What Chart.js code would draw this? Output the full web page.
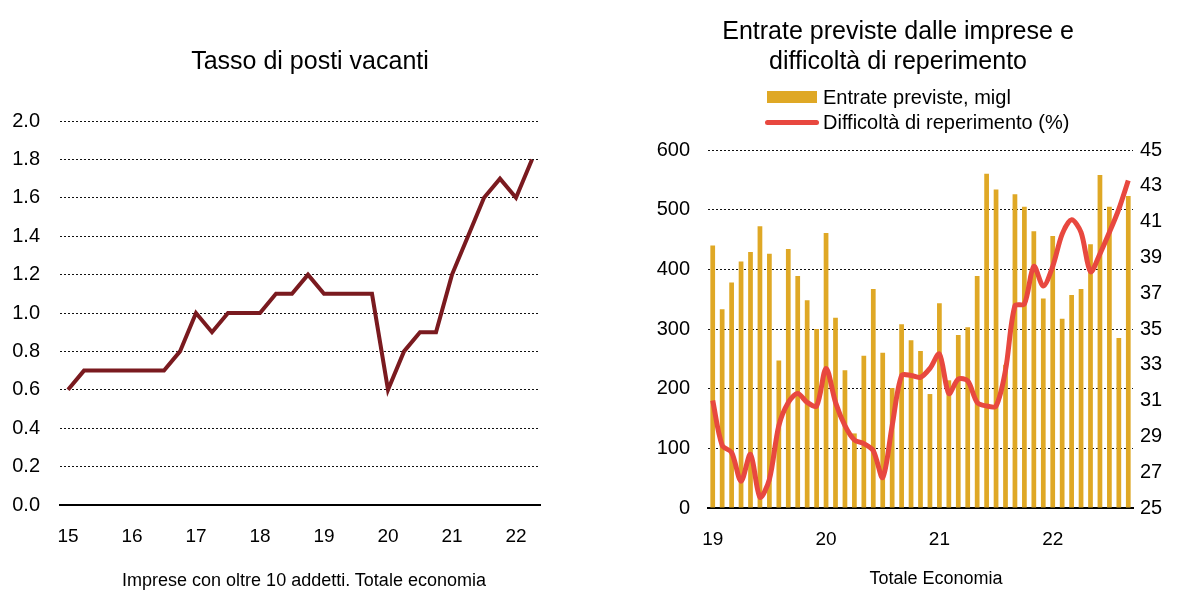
<!DOCTYPE html>
<html>
<head>
<meta charset="utf-8">
<script src="https://cdn.jsdelivr.net/npm/chart.js@4.4.0/dist/chart.umd.min.js"></script>
<style>
  body { margin: 0; width: 1179px; height: 592px; background: #fff; position: relative; overflow: hidden;
         font-family: 'Liberation Sans', Arial, sans-serif; color: #000; }
  .box { position: absolute; }
  .txt { position: absolute; white-space: nowrap; line-height: 1; }
  .center { transform: translate(-50%, -50%); text-align: center; }
  .left { transform: translateY(-50%); }
</style>
</head>
<body>
<div class="box" style="left:0;top:0;width:590px;height:592px"><canvas id="vacancy-chart"></canvas></div>
<div class="box" style="left:590px;top:0;width:589px;height:592px"><canvas id="hiring-chart"></canvas></div>

<!-- titles, legend and notes -->
<div class="txt center" style="left:310px;top:60px;font-size:25px">Tasso di posti vacanti</div>
<div class="txt center" style="left:304px;top:580px;font-size:18px">Imprese con oltre 10 addetti. Totale economia</div>

<div class="txt center" style="left:898px;top:45px;font-size:25px;line-height:30px">Entrate previste dalle imprese e<br>difficoltà di reperimento</div>
<div class="box" style="left:767px;top:91px;width:50px;height:12px;background:#DFA825"></div>
<div class="txt left" style="left:823px;top:97px;font-size:20px">Entrate previste, migl</div>
<div class="box" style="left:765px;top:120px;width:54px;height:5px;border-radius:3px;background:#E8483F"></div>
<div class="txt left" style="left:823px;top:122px;font-size:20px">Difficoltà di reperimento (%)</div>
<div class="txt center" style="left:936px;top:578px;font-size:18px">Totale Economia</div>

<script>
// left panel: job vacancy rate, quarterly
const quarters = [
    '2015T1', '2015T2', '2015T3', '2015T4', '2016T1', '2016T2', '2016T3', '2016T4',
    '2017T1', '2017T2', '2017T3', '2017T4', '2018T1', '2018T2', '2018T3', '2018T4',
    '2019T1', '2019T2', '2019T3', '2019T4', '2020T1', '2020T2', '2020T3', '2020T4',
    '2021T1', '2021T2', '2021T3', '2021T4', '2022T1', '2022T2'
];
const vacancyRate = [
    0.6, 0.7, 0.7, 0.7, 0.7, 0.7, 0.7, 0.8,
    1.0, 0.9, 1.0, 1.0, 1.0, 1.1, 1.1, 1.2,
    1.1, 1.1, 1.1, 1.1, 0.6, 0.8, 0.9, 0.9,
    1.2, 1.4, 1.6, 1.7, 1.6, 1.8
];

// right panel: expected hirings (thousands) and difficulty of finding staff (%), monthly
const months = [
    'gen-19', 'feb-19', 'mar-19', 'apr-19', 'mag-19', 'giu-19', 'lug-19', 'ago-19', 'set-19', 'ott-19', 'nov-19', 'dic-19',
    'gen-20', 'feb-20', 'mar-20', 'apr-20', 'mag-20', 'giu-20', 'lug-20', 'ago-20', 'set-20', 'ott-20', 'nov-20', 'dic-20',
    'gen-21', 'feb-21', 'mar-21', 'apr-21', 'mag-21', 'giu-21', 'lug-21', 'ago-21', 'set-21', 'ott-21', 'nov-21', 'dic-21',
    'gen-22', 'feb-22', 'mar-22', 'apr-22', 'mag-22', 'giu-22', 'lug-22', 'ago-22', 'set-22'
];
const hirings = [
    440, 333, 378, 413, 429, 472, 426, 247, 434, 389, 348, 300,
    461, 319, 231, 125, 255, 367, 260, 201, 308, 281, 263, 191,
    343, 214, 290, 303, 389, 560, 534, 240, 526, 505, 464, 351,
    456, 317, 357, 367, 442, 558, 505, 285, 523
];
const difficulty = [
    31.0, 28.5, 28.1, 26.5, 28.0, 25.6, 26.6, 29.6, 30.9, 31.4, 30.9, 30.7,
    32.8, 30.9, 29.6, 28.8, 28.6, 28.2, 26.7, 29.6, 32.4, 32.4, 32.3, 32.8,
    33.6, 31.4, 32.2, 32.1, 30.9, 30.7, 30.7, 32.7, 36.3, 36.4, 38.5, 37.4,
    38.5, 40.3, 41.1, 40.4, 38.2, 39.2, 40.4, 41.7, 43.3
];

Chart.defaults.font.family = "'Liberation Sans', Arial, sans-serif";
Chart.defaults.color = '#000';
Chart.defaults.animation = false;
Chart.defaults.maintainAspectRatio = false;
Chart.defaults.plugins.legend.display = false;
Chart.defaults.plugins.tooltip.enabled = false;

const dotted = { color: '#111', lineWidth: 1, drawTicks: false };

new Chart(document.getElementById('vacancy-chart'), {
    type: 'line',
    data: {
        labels: quarters,
        datasets: [{
            data: vacancyRate,
            borderColor: '#7A1A1F',
            borderWidth: 4,
            pointRadius: 0,
            tension: 0
        }]
    },
    options: {
        layout: { padding: { top: 121, right: 50, bottom: 17, left: 0 } },
        scales: {
            x: {
                offset: true,
                grid: { display: false },
                border: { display: true, color: '#000', width: 2 },
                ticks: {
                    autoSkip: false, maxRotation: 0, padding: 12,
                    font: { size: 19 },
                    callback: function (v) {
                        const q = this.getLabelForValue(v);
                        return q.endsWith('T1') ? q.slice(2, 4) : '';
                    }
                },
                afterFit: s => { s.height = 70; }
            },
            y: {
                min: 0, max: 2,
                grid: dotted,
                border: { display: false, dash: [2, 2] },
                ticks: { stepSize: 0.2, padding: 20, font: { size: 20 }, callback: v => v.toFixed(1) },
                afterFit: s => { s.width = 60; }
            }
        }
    }
});

new Chart(document.getElementById('hiring-chart'), {
    type: 'bar',
    data: {
        labels: months,
        datasets: [
            {
                type: 'line',
                label: 'Difficoltà di reperimento (%)',
                data: difficulty,
                yAxisID: 'y1',
                borderColor: '#E8483F',
                borderWidth: 5,
                pointRadius: 0,
                tension: 0.3,
                order: 0
            },
            {
                label: 'Entrate previste, migl',
                data: hirings,
                yAxisID: 'y',
                backgroundColor: '#DFA825',
                barPercentage: 0.5,
                categoryPercentage: 1.0,
                order: 1
            }
        ]
    },
    options: {
        layout: { padding: { top: 150, right: 0, bottom: 14, left: 0 } },
        scales: {
            x: {
                grid: { display: false },
                border: { display: true, color: '#000', width: 2 },
                ticks: {
                    autoSkip: false, maxRotation: 0, padding: 12,
                    font: { size: 19 },
                    callback: function (v) {
                        const m = this.getLabelForValue(v);
                        return m.startsWith('gen') ? m.slice(4) : '';
                    }
                },
                afterFit: s => { s.height = 70; }
            },
            y: {
                position: 'left',
                min: 0, max: 600,
                grid: dotted,
                border: { display: false, dash: [2, 2] },
                ticks: { stepSize: 100, padding: 18, font: { size: 20 } },
                afterFit: s => { s.width = 118; }
            },
            y1: {
                position: 'right',
                min: 25, max: 45,
                grid: { display: false, drawTicks: false },
                border: { display: false },
                ticks: { stepSize: 2, padding: 7, font: { size: 20 } },
                afterFit: s => { s.width = 46; }
            }
        }
    }
});
</script>
</body>
</html>
